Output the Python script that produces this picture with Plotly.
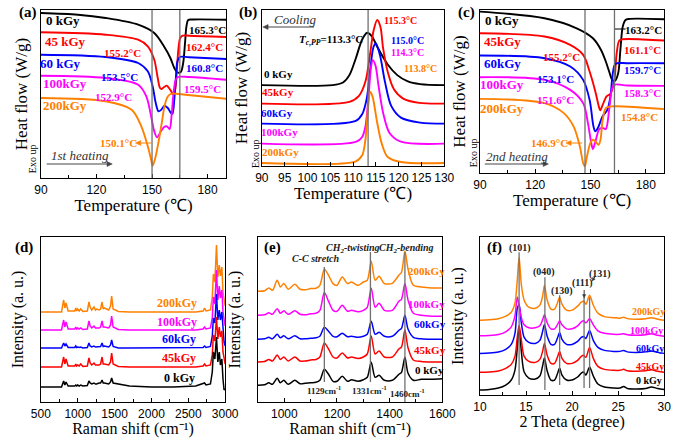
import plotly.graph_objects as go

W, H = 685, 438

dose_labels = ["0 kGy", "45kGy", "60kGy", "100kGy", "200kGy"]
colors = ["#000000", "#FF0000", "#0000FF", "#FF00FF", "#FF8000"]

# ---------------- (a) 1st heating DSC (heat flow, arbitrary offset units) ----------------
a_T_0 = [90, 110, 125, 142.5, 151.2, 156.4, 159.9, 162, 163.7, 165.5, 166.8, 167.8, 168.6, 169.5, 172, 190]
a_HF_0 = [165, 163.3, 160, 153.3, 145, 131.7, 120, 110, 105.5, 106, 115, 135, 152, 158, 158.5, 158.3]
a_T_1 = [90, 125, 142.5, 147.7, 151.2, 152.9, 154.3, 155.2, 156.5, 158, 159.8, 161.5, 162.5, 163.3, 164.2, 165.2, 166.5, 170, 190]
a_HF_1 = [145.7, 143.3, 138.3, 131.7, 118.3, 101.7, 90, 89, 91, 92.3, 88.3, 83.7, 88.3, 105, 128.3, 140, 142.3, 142.3, 141]
a_T_2 = [90, 125, 142.5, 147.7, 150.3, 152, 153.5, 155, 156.7, 158.5, 160.2, 161, 162, 162.8, 163.7, 165, 170, 190]
a_HF_2 = [123.3, 121, 115, 106.7, 91.7, 75, 66.7, 68.3, 72.3, 70, 65, 64.3, 78.3, 98.3, 116.7, 121, 120.7, 119]
a_T_3 = [90, 125, 142.5, 146.9, 149.5, 151.2, 152.7, 154.8, 156.5, 158, 159.5, 160.5, 161.6, 162.8, 164, 170, 190]
a_HF_3 = [102.3, 100, 93.3, 81.7, 61.7, 46.7, 40.7, 46.7, 51, 51.7, 49, 61.7, 85, 98.3, 101, 101, 98.3]
a_T_4 = [90, 125, 139, 144.2, 147.7, 149.5, 150.3, 151.6, 153.4, 155.1, 156.9, 158.6, 160.5, 163, 168, 190]
a_HF_4 = [80, 76.7, 68.3, 51.7, 31.7, 18.3, 12.3, 19, 35, 53.3, 73.3, 81.7, 84.3, 84.3, 83.3, 79.3]

# ---------------- (b) cooling DSC ----------------
b_T_0 = [90, 105.5, 107.8, 109.2, 110.6, 112, 113.1, 114.1, 115.5, 117.6, 119.7, 121.9, 124.7, 130]
b_HF_0 = [80.7, 80.7, 83.3, 90.7, 107.3, 126.3, 133, 129.7, 117.3, 101.3, 90.7, 84.7, 81.7, 80.7]
b_T_1 = [90, 109.2, 111.3, 112.7, 113.8, 114.5, 115.3, 116, 116.6, 117.6, 119, 121, 124.5, 130]
b_HF_1 = [62.3, 64, 70, 84, 114, 135, 145.7, 139, 117.3, 94, 76.3, 67.3, 63, 62.3]
b_T_2 = [90, 110.6, 112, 113, 113.8, 114.5, 115, 115.9, 117, 118.4, 120.5, 124.7, 130]
b_HF_2 = [42.3, 45, 51.7, 67.3, 97.3, 119, 122.3, 110.7, 84, 59.7, 48.3, 43.3, 42.3]
b_T_3 = [90, 110.6, 112, 112.7, 113.4, 113.9, 114.3, 114.9, 115.6, 116.6, 118, 120.5, 130]
b_HF_3 = [22.3, 24, 29, 39, 69, 97.3, 105.7, 100.7, 79.7, 53, 33, 24.3, 22.3]
b_T_4 = [90, 110.6, 112, 112.7, 113.3, 113.8, 114.3, 115.2, 116.3, 117.6, 120.5, 130]
b_HF_4 = [3, 4.7, 10.7, 25.7, 59, 74, 69, 45.7, 22.3, 9, 4, 3]

# ---------------- (c) 2nd heating DSC ----------------
c_T_0 = [90, 125, 142.5, 151.3, 155.7, 158.3, 160.1, 161.8, 163.2, 165, 166.2, 167.5, 169, 170.7, 190]
c_HF_0 = [161.7, 155, 145, 135, 123.3, 111.7, 101.7, 93.3, 92.3, 100, 123.3, 146.7, 153.3, 154.3, 154]
c_T_1 = [90, 125, 139, 146, 149.5, 152.6, 154.5, 155.2, 156.6, 158.7, 160.8, 162, 163, 164.2, 165.6, 167.4, 190]
c_HF_1 = [140, 136.7, 128.3, 118.3, 101.7, 81.7, 66.7, 62.7, 68.3, 76.7, 79.3, 85, 93.3, 120, 132.7, 134, 132.7]
c_T_2 = [90, 125, 139, 146, 149.5, 151.6, 152.6, 154, 156.5, 159.1, 160.8, 162.1, 163.5, 170, 190]
c_HF_2 = [117.7, 115, 106.7, 93.3, 73.3, 46.7, 41.7, 45, 56.7, 63.3, 76.7, 100, 109.3, 110, 110]
c_T_3 = [90, 125, 139, 146, 148.6, 150.4, 151.3, 152.7, 154.8, 156.9, 158.3, 160.1, 161.5, 162.7, 170, 190]
c_HF_3 = [96, 93.3, 83.3, 70, 50, 30, 24, 31.7, 44, 45, 44, 63.3, 83.3, 88.3, 87.7, 87.3]
c_T_4 = [90, 125, 135.5, 140.8, 144.2, 146, 146.9, 148.1, 149.9, 151.3, 152.6, 154.4, 155.4, 156.6, 158.3, 161, 190]
c_HF_4 = [74.3, 70, 60, 46.7, 26.7, 10, 6.7, 16.7, 30, 33.3, 31.7, 28.3, 33.3, 53.3, 65, 66.7, 64]

# ---------------- (d) Raman full range ----------------
d_shift = [500, 780, 809, 825, 841, 870, 960, 973, 985, 998, 1020, 1040, 1070, 1130, 1152, 1168, 1190,
           1220, 1240, 1255, 1290, 1310, 1330, 1345, 1360, 1420, 1445, 1460, 1480, 1550, 1700, 2000,
           2300, 2600, 2700, 2720, 2740, 2800, 2825, 2840, 2860, 2882, 2900, 2920, 2935, 2955, 2970, 2985, 3000]
d_I_0 = [0, 0, 6, 2, 5, 1, 1, 2, 1, 2, 1, 2, 1, 1.5, 6, 4, 3, 4, 3, 3, 4, 4, 7, 4, 4, 3, 5, 9, 4, 3,
         1, 0, 0, 1, 3, 4, 2, 3, 15, 35, 28, 50, 25, 35, 22, 28, 8, -3, -2]
d_I_1 = [0, 0, 10, 3, 8, 1, 1, 3, 1, 2, 1, 3, 0.5, 1, 9, 4, 2, 4, 2, 2, 2, 3, 10, 3, 3, 2, 5, 14, 3, 0.5,
         0, 0, 0, 0, 1, 3, 1, 2, 12, 32, 26, 50, 28, 40, 30, 36, 15, 6, 3]
d_I_2 = [0, 0, 5, 2, 4, 0.5, 0.5, 2, 0.5, 1, 0.5, 1, 0, 0.5, 5, 2, 1, 2, 1, 1, 1, 1.5, 5, 1.5, 2, 1, 3, 8, 1.5, 0,
         0, 0, 0, 0, 0.5, 2, 0.5, 1.5, 12, 30, 25, 54, 28, 38, 28, 36, 15, 6, 2]
d_I_3 = [0, 0, 10, 3, 8, 1, 1, 3, 1, 2, 1, 2, 0.5, 1, 9, 4, 2, 4, 2, 2, 2, 3, 9, 3, 3, 2, 5, 14, 3, 0.5,
         0, 0, 0, 0, 1, 3, 1, 2, 12, 33, 26, 60, 30, 44, 32, 40, 18, 8, 4]
d_I_4 = [0, 0, 12, 4, 9, 1, 1, 4, 1, 3, 1, 3, 0.5, 1, 10, 5, 2, 5, 2, 3, 2, 3, 10, 3, 4, 2, 6, 16, 3, 0.5,
         0, 0, 0, 0, 1, 4, 1, 2, 15, 38, 30, 67, 35, 47, 36, 45, 20, 10, 6]
d_offsets = [15, 35, 54, 72, 90]

# ---------------- (e) Raman 900-1600 ----------------
e_shift = [900, 925, 941, 955, 973, 985, 998, 1015, 1040, 1060, 1080, 1100, 1120, 1135, 1152, 1168, 1185,
           1200, 1220, 1240, 1255, 1280, 1300, 1315, 1330, 1345, 1360, 1380, 1410, 1435, 1445, 1458, 1470,
           1490, 1520, 1560, 1600]
e_I_0 = [0, 0.5, 2.5, 1, 7, 2.5, 5, 1, 5, 1.5, 2, 2.5, 3, 5, 16, 11, 4, 4, 9, 4, 5.5, 4, 5.5, 8, 23, 8, 10,
         5, 5, 11, 13, 28, 12, 5, 6, 6, 6.5]
e_I_1 = [0, 0.5, 2.5, 1, 7, 2.5, 5, 1, 5, 1, 1, 2, 2.5, 5, 19, 13, 5, 4, 9, 4, 5, 3.5, 5, 8, 26, 8, 11,
         5, 5, 13, 15, 32, 14, 2, 0.5, 0, 0]
e_I_2 = [0, 0.5, 2, 0.5, 5, 1.5, 3.5, 0.5, 3.5, 0.5, 0.5, 1, 1.5, 3, 12, 8, 3, 2.5, 6, 2.5, 3, 2, 3, 5, 18,
         5, 7, 3, 3, 9, 11, 24, 10, 2, 0.5, 0, 0]
e_I_3 = [0, 0.5, 2.5, 1, 6.5, 2, 4.5, 1, 4.5, 1, 0.5, 1.5, 2, 5, 22.7, 14, 5, 4, 10, 4, 5, 3.5, 5, 8, 27,
         8, 12, 5, 5, 14, 16, 31.7, 15, 2, 0, -1, -1]
e_I_4 = [0, 0.5, 3.3, 1, 11, 4.3, 7.7, 2, 7, 2, 1.5, 2.7, 3, 6, 22, 16, 7.7, 6, 14.3, 7.7, 9.3, 6, 9.3, 11,
         30, 11, 15, 7.7, 8, 16, 19, 40, 22, 6, 4.3, 3.3, 3.3]
e_offsets = [16.7, 40, 62.7, 86.7, 110.7]

# ---------------- (f) XRD ----------------
f_2theta = [10, 11, 12, 12.8, 13.4, 13.8, 14.05, 14.25, 14.5, 14.8, 15.3, 16, 16.5, 16.8, 17.0, 17.3, 17.7,
            18.1, 18.4, 18.65, 18.9, 19.4, 20, 20.6, 21.0, 21.25, 21.5, 21.9, 22.3, 22.8, 23.5, 24.5, 25.2,
            25.6, 26, 27, 28, 28.6, 29.3, 30]
f_I_0 = [0, 0.5, 2, 5, 10, 20, 42, 62, 38, 18, 12, 11, 14, 24, 32, 19, 10, 10, 16, 22, 15, 10, 10, 13, 17,
         18, 15, 23, 14, 6, 3, 2, 2, 3.5, 1.5, 1, 1.5, 3, 1.5, 0.5]
f_I_1 = [0, 0.3, 1.3, 4, 8, 16, 35, 47, 32, 16, 11, 10, 13, 21, 29, 17, 9, 9, 15, 21, 14, 9, 9, 12, 16, 17,
         15, 25, 14, 6, 3, 2, 2, 3, 1.5, 1, 1.5, 2.5, 1, 0]
f_I_2 = [0, 0.3, 1.3, 4, 9, 20, 45, 49, 30, 16, 11, 10, 13, 22, 29, 17, 9, 9, 15, 21, 14, 9, 9, 12, 16, 17,
         15, 23, 13, 6, 3, 2, 2, 3, 1.5, 1, 1.5, 2.5, 1, 0]
f_I_3 = [0, 0.3, 1.3, 4, 9, 20, 39, 30, 18, 11, 8, 8, 10, 16, 21, 13, 7, 7, 11, 15, 11, 7, 7, 10, 14, 15,
         13, 17, 11, 5, 2.5, 1.5, 1.5, 2, 1, 0.5, 1, 2, 0.5, -0.5]
f_I_4 = [0, 0.3, 1.3, 4, 8, 17, 40, 63, 35, 20, 13, 12, 15, 24, 35, 20, 11, 11, 17, 23, 16, 10, 10, 14, 18,
         19, 16, 25, 15, 7, 3.5, 2.5, 2, 3, 1.5, 1, 1.5, 2.5, 1, 0]
f_offsets = [5, 22.7, 41.7, 59.3, 75]

# ---------------------------------------------------------------------------------------
fig = go.Figure()

dsc_sets = [
    ("x", "y", [a_T_0, a_T_1, a_T_2, a_T_3, a_T_4], [a_HF_0, a_HF_1, a_HF_2, a_HF_3, a_HF_4]),
    ("x2", "y2", [b_T_0, b_T_1, b_T_2, b_T_3, b_T_4], [b_HF_0, b_HF_1, b_HF_2, b_HF_3, b_HF_4]),
    ("x3", "y3", [c_T_0, c_T_1, c_T_2, c_T_3, c_T_4], [c_HF_0, c_HF_1, c_HF_2, c_HF_3, c_HF_4]),
]
for xa, ya, Ts, HFs in dsc_sets:
    for i in range(5):
        fig.add_trace(go.Scatter(x=Ts[i], y=HFs[i], mode="lines", xaxis=xa, yaxis=ya,
                                 line=dict(color=colors[i], width=1.9, shape="spline", smoothing=0.9),
                                 hoverinfo="skip", showlegend=False))

for i in [4, 3, 2, 1, 0]:
    I = [d_I_0, d_I_1, d_I_2, d_I_3, d_I_4][i]
    fig.add_trace(go.Scatter(x=d_shift, y=[v + d_offsets[i] for v in I], mode="lines", xaxis="x4", yaxis="y4",
                             line=dict(color=colors[i], width=1.5), hoverinfo="skip", showlegend=False))
for i in range(5):
    I = [e_I_0, e_I_1, e_I_2, e_I_3, e_I_4][i]
    fig.add_trace(go.Scatter(x=e_shift, y=[v + e_offsets[i] for v in I], mode="lines", xaxis="x5", yaxis="y5",
                             line=dict(color=colors[i], width=1.5, shape="spline", smoothing=0.8),
                             hoverinfo="skip", showlegend=False))
for i in range(5):
    I = [f_I_0, f_I_1, f_I_2, f_I_3, f_I_4][i]
    fig.add_trace(go.Scatter(x=f_2theta, y=[v + f_offsets[i] for v in I], mode="lines", xaxis="x6", yaxis="y6",
                             line=dict(color=colors[i], width=1.5, shape="spline", smoothing=0.8),
                             hoverinfo="skip", showlegend=False))


def dom_x(a, b):
    return [a / W, b / W]


def dom_y(top, bot):
    return [1 - bot / H, 1 - top / H]


tickfont = dict(family="Liberation Sans, Arial", size=12, color="black")
titlefont = dict(family="Liberation Serif, Times New Roman", size=17, color="black")
titlefont2 = dict(family="Liberation Serif, Times New Roman", size=16, color="black")


def xax(dom, rng, tick0, dtick, minor, title, anchor, tf=titlefont, standoff=2):
    d = dict(domain=dom, range=rng, anchor=anchor, showline=True, linecolor="black", linewidth=1.2,
             mirror=True, showgrid=False, zeroline=False, ticks="inside", ticklen=4, tickcolor="black",
             tickmode="linear", tick0=tick0, dtick=dtick, tickfont=tickfont,
             title=dict(text=title, font=tf, standoff=standoff))
    if minor:
        d["minor"] = dict(ticks="inside", ticklen=2.5, tickcolor="black", dtick=minor, tick0=tick0)
    return d


def yax(dom, rng, title, anchor, standoff, tf=titlefont):
    return dict(domain=dom, range=rng, anchor=anchor, showline=True, linecolor="black", linewidth=1.2,
                mirror=True, showgrid=False, zeroline=False, showticklabels=False, ticks="",
                title=dict(text=title, font=tf, standoff=standoff))


fig.update_layout(
    width=W, height=H, margin=dict(l=0, r=0, t=0, b=0),
    paper_bgcolor="white", plot_bgcolor="white", showlegend=False,
    xaxis=xax(dom_x(32, 224), [90, 190], 90, 30, 15, "Temperature (℃)", "y"),
    yaxis=yax(dom_y(10, 178), [0, 168], "Heat flow (W/g)", "x", 7),
    xaxis2=xax(dom_x(261, 450), [90, 130], 90, 5, None, "Temperature (℃)", "y2"),
    yaxis2=yax(dom_y(10, 166), [0, 155.7], "Heat flow (W/g)", "x2", 8),
    xaxis3=xax(dom_x(487, 678), [90, 190], 90, 30, 15, "Temperature (℃)", "y3"),
    yaxis3=yax(dom_y(10, 173), [0, 163.3], "Heat flow (W/g)", "x3", 8),
    xaxis4=xax(dom_x(32, 223), [500, 3000], 500, 500, 250, "Raman shift (cm⁻¹)", "y4", titlefont2, 2),
    yaxis4=yax(dom_y(237, 402), [0, 165], "Intensity (a. u.)", "x4", 12, titlefont2),
    xaxis5=xax(dom_x(257, 448), [900, 1600], 1000, 200, 100, "Raman shift (cm⁻¹)", "y5", titlefont2, 2),
    yaxis5=yax(dom_y(237, 402), [0, 165], "Intensity (a. u.)", "x5", 12, titlefont2),
    xaxis6=xax(dom_x(487, 678), [10, 30], 10, 5, 2.5, "2 Theta (degree)", "y6", titlefont2),
    yaxis6=yax(dom_y(237, 395), [0, 158.3], "Intensity (a. u.)", "x6", 11, titlefont2),
)

# vertical guide lines
shapes = []
for xa, ya, xv in [("x", "y", 150), ("x", "y", 165), ("x2", "y2", 113.3), ("x3", "y3", 147), ("x3", "y3", 163)]:
    shapes.append(dict(type="line", xref=xa, yref=ya + " domain", x0=xv, x1=xv, y0=0, y1=1,
                       line=dict(color="#707070", width=1.3)))
for xv, y0, y1 in [(1152, 20, 135), (1327, 20, 150), (1458, 0, 150)]:
    shapes.append(dict(type="line", xref="x5", yref="y5", x0=xv, x1=xv, y0=y0, y1=y1,
                       line=dict(color="#707070", width=1.3)))
for xv, y0, y1 in [(14.25, 10, 143), (17.05, 5, 118), (18.65, 10, 100), (21.3, 7, 98), (21.9, 7, 98)]:
    shapes.append(dict(type="line", xref="x6", yref="y6", x0=xv, x1=xv, y0=y0, y1=y1,
                       line=dict(color="#707070", width=1.3)))
# short leader line for 163.2 label in (c)
shapes.append(dict(type="line", xref="paper", yref="paper", x0=627 / W, x1=638 / W, y0=1 - 29 / H, y1=1 - 29 / H,
                   line=dict(color="black", width=1)))


def arrow(hx, hy, tx, ty, color="#444444", head=5.5):
    """Arrow drawn as shapes: a line from tail to head plus a filled triangle head (pixel coords)."""
    dx, dy = hx - tx, hy - ty
    n = (dx * dx + dy * dy) ** 0.5
    ux, uy = dx / n, dy / n
    bx, by = hx - ux * head, hy - uy * head
    px_, py_ = -uy * head * 0.45, ux * head * 0.45
    shapes.append(dict(type="line", xref="paper", yref="paper", x0=tx / W, y0=1 - ty / H, x1=bx / W, y1=1 - by / H,
                       line=dict(color=color, width=1)))
    pts = [(hx, hy), (bx + px_, by + py_), (bx - px_, by - py_)]
    path = "M " + " L ".join("%.5f,%.5f" % (x / W, 1 - y / H) for x, y in pts) + " Z"
    shapes.append(dict(type="path", xref="paper", yref="paper", path=path, fillcolor=color,
                       line=dict(color=color, width=0.5)))


SERIF = "Liberation Serif, Times New Roman"
anns = []


def note(text, x, y, color="black", size=12, bold=True, italic=False, angle=0):
    t = text
    if italic:
        t = "<i>" + t + "</i>"
    if bold:
        t = "<b>" + t + "</b>"
    anns.append(dict(text=t, x=x / W, y=1 - y / H, xref="paper", yref="paper", showarrow=False,
                     xanchor="center", yanchor="middle", textangle=angle,
                     font=dict(family=SERIF, size=size, color=color)))


# panel letters
for t, x, y in [("(a)", 19, 13), ("(b)", 247, 13), ("(c)", 473, 12), ("(d)", 15, 247), ("(e)", 272, 247), ("(f)", 502, 247)]:
    note(t, x, y, size=15)

# (a)
for (t, x, y), c in zip([("0 kGy", 55, 20), ("45 kGy", 57, 42), ("60 kGy", 52, 63), ("100kGy", 57, 83), ("200kGy", 57, 106)], colors):
    note(t, x, y, c, 13)
for t, x, y, c in [("165.3°C", 205, 30, colors[0]), ("162.4°C", 202, 47, colors[1]), ("155.2°C", 117, 53, colors[1]),
                   ("160.8°C", 202, 68, colors[2]), ("153.5°C", 113, 77, colors[2]), ("159.5°C", 199, 89, colors[3]),
                   ("152.9°C", 107, 97, colors[3]), ("150.1°C", 112, 143, colors[4])]:
    note(t, x, y, c, 11)
arrow(130, 143, 147, 143, colors[4])
note("1st heating", 73, 155, "#333333", 13, bold=False, italic=True)
arrow(106, 164, 38, 164)
note("Exo up", 23, 159, "black", 10, bold=False, angle=-90)

# (b)
note("Cooling", 295, 19, "#333333", 13, bold=False, italic=True)
arrow(262, 27, 315, 27)
note("<i>T</i><sub><i>c,PP</i></sub>=113.3°C", 333, 40, "black", 11)
for t, x, y, c in [("115.3°C", 405, 21, colors[1]), ("115.0°C", 412, 41, colors[2]),
                   ("114.3°C", 412, 53, colors[3]), ("113.8°C", 425, 68, colors[4])]:
    note(t, x, y, c, 10)
for (t, x, y), c in zip([("0 kGy", 278, 74), ("45kGy", 278, 92), ("60kGy", 277, 113), ("100kGy", 279, 132), ("200kGy", 280, 152)], colors):
    note(t, x, y, c, 11)
note("Exo up", 255, 154, "black", 10, bold=False, angle=-90)

# (c)
for (t, x, y), c in zip([("0 kGy", 510, 20), ("45kGy", 510, 42), ("60kGy", 510, 63), ("100kGy", 510, 85), ("200kGy", 510, 108)], colors):
    note(t, x, y, c, 13)
for t, x, y, c in [("163.2°C", 656, 30, colors[0]), ("161.1°C", 655, 50, colors[1]), ("155.2°C", 572, 57, colors[1]),
                   ("159.7°C", 655, 70, colors[2]), ("153.1°C", 565, 79, colors[2]), ("158.3°C", 655, 93, colors[3]),
                   ("151.6°C", 565, 100, colors[3]), ("154.8°C", 652, 117, colors[4]), ("146.9°C", 559, 143, colors[4])]:
    note(t, x, y, c, 11)
arrow(576, 143, 593, 143, colors[4])
note("2nd heating", 525, 156, "#333333", 13, bold=False, italic=True)
arrow(558, 164, 492, 164)
note("Exo up", 480, 153, "black", 10, bold=False, angle=-90)

# (d)
for (t, x, y), c in zip([("0 kGy", 176, 378), ("45kGy", 175, 358), ("60kGy", 175, 339), ("100kGy", 173, 322), ("200kGy", 173, 303)], colors):
    note(t, x, y, c, 12)

# (e)
note("C-C stretch", 317, 258, "#222222", 10, italic=True)
note("CH<sub>2</sub>-twisting", 355, 248, "#222222", 10, italic=True)
note("CH<sub>2</sub>-bending", 411, 248, "#222222", 10, italic=True)
for (t, x, y), c in zip([("0 kGy", 435, 370), ("45kGy", 435, 350), ("60kGy", 435, 324), ("100kGy", 432, 304), ("200kGy", 432, 271)], colors):
    note(t, x, y, c, 11)
note("1129cm<sup>-1</sup>", 325, 390, "#222222", 9)
note("1331cm<sup>-1</sup>", 373, 390, "#222222", 9)
note("1460cm<sup>-1</sup>", 412, 393, "#222222", 9)

# (f)
for t, x, y in [("(101)", 528, 248), ("(040)", 553, 272), ("(130)", 572, 291), ("(111)", 593, 283), ("(131)", 611, 274)]:
    note(t, x, y, "#222222", 10)
arrow(595, 298, 595, 290, "#333333", 3.5)
arrow(603, 281, 607, 276, "#333333", 3.5)
for (t, x, y), c in zip([("0 kGy", 662, 380), ("45kGy", 663, 366), ("60kGy", 663, 348), ("100kGy", 660, 330), ("200kGy", 662, 311)], colors):
    note(t, x, y, c, 10)

fig.update_layout(annotations=anns, shapes=shapes)
fig.write_html("out.html", config={"displayModeBar": False},
               post_script="document.body.style.margin='0';document.body.style.padding='0';")
